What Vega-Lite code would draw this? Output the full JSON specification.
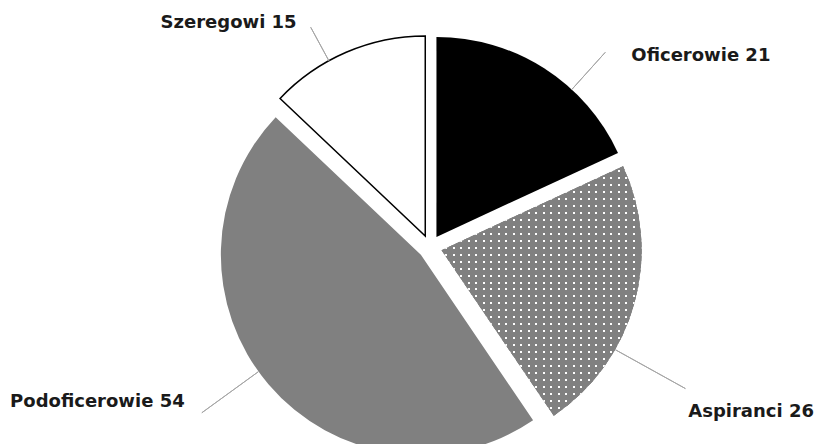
{
  "$schema": "https://vega.github.io/schema/vega-lite/v6.json",
  "width": 770,
  "height": 394,
  "autosize": {"type": "none"},
  "padding": {"left": 45, "top": 50, "right": 0, "bottom": 0},
  "background": "#ffffff",
  "view": {"stroke": null},
  "data": {
    "values": [
      {"cat": "Oficerowie", "n": 1, "value": 21, "label": "Oficerowie 21"},
      {"cat": "Aspiranci", "n": 2, "value": 26, "label": "Aspiranci 26"},
      {"cat": "Podoficerowie", "n": 3, "value": 54, "label": "Podoficerowie 54"},
      {"cat": "Szeregowi", "n": 4, "value": 15, "label": "Szeregowi 15"}
    ]
  },
  "transform": [
    {"stack": "value", "groupby": [], "sort": [{"field": "n", "order": "ascending"}], "as": ["v0", "v1"]}
  ],
  "layer": [
    {
      "mark": {
        "type": "arc",
        "radius": 200,
        "x": {"expr": "width/2 + 12*sin(scale('theta', (datum.v0 + datum.v1)/2))"},
        "y": {"expr": "height/2 - 12*cos(scale('theta', (datum.v0 + datum.v1)/2))"},
        "strokeWidth": 1.5
      },
      "encoding": {
        "theta": {"field": "v1", "type": "quantitative", "scale": {"nice": false, "zero": true}},
        "theta2": {"field": "v0"},
        "color": {
          "field": "cat",
          "type": "nominal",
          "scale": {"domain": ["Oficerowie", "Aspiranci", "Podoficerowie", "Szeregowi"], "range": ["#000000", "#808080", "#808080", "#ffffff"]},
          "legend": null
        },
        "stroke": {"condition": {"test": "datum.cat === 'Szeregowi'", "value": "#000000"}, "value": "transparent"}
      }
    },
    {
      "transform": [{"filter": "datum.cat === 'Aspiranci'"}],
      "mark": {
        "type": "arc",
        "radius": 200,
        "x": {"expr": "width/2 + 12*sin(scale('theta', (datum.v0 + datum.v1)/2))"},
        "y": {"expr": "height/2 - 12*cos(scale('theta', (datum.v0 + datum.v1)/2))"},
        "fill": {
          "gradient": "linear", "x1": 0, "y1": 0, "x2": 0, "y2": 1,
          "stops": [
            {"offset": 0, "color": "#808080"},
            {"offset": 0.014, "color": "#808080"}, {"offset": 0.014, "color": "#ffffff"}, {"offset": 0.022, "color": "#ffffff"}, {"offset": 0.022, "color": "#808080"},
            {"offset": 0.042, "color": "#808080"}, {"offset": 0.042, "color": "#ffffff"}, {"offset": 0.050, "color": "#ffffff"}, {"offset": 0.050, "color": "#808080"},
            {"offset": 0.070, "color": "#808080"}, {"offset": 0.070, "color": "#ffffff"}, {"offset": 0.078, "color": "#ffffff"}, {"offset": 0.078, "color": "#808080"},
            {"offset": 0.098, "color": "#808080"}, {"offset": 0.098, "color": "#ffffff"}, {"offset": 0.106, "color": "#ffffff"}, {"offset": 0.106, "color": "#808080"},
            {"offset": 0.126, "color": "#808080"}, {"offset": 0.126, "color": "#ffffff"}, {"offset": 0.134, "color": "#ffffff"}, {"offset": 0.134, "color": "#808080"},
            {"offset": 0.154, "color": "#808080"}, {"offset": 0.154, "color": "#ffffff"}, {"offset": 0.162, "color": "#ffffff"}, {"offset": 0.162, "color": "#808080"},
            {"offset": 0.182, "color": "#808080"}, {"offset": 0.182, "color": "#ffffff"}, {"offset": 0.190, "color": "#ffffff"}, {"offset": 0.190, "color": "#808080"},
            {"offset": 0.210, "color": "#808080"}, {"offset": 0.210, "color": "#ffffff"}, {"offset": 0.218, "color": "#ffffff"}, {"offset": 0.218, "color": "#808080"},
            {"offset": 0.238, "color": "#808080"}, {"offset": 0.238, "color": "#ffffff"}, {"offset": 0.246, "color": "#ffffff"}, {"offset": 0.246, "color": "#808080"},
            {"offset": 0.266, "color": "#808080"}, {"offset": 0.266, "color": "#ffffff"}, {"offset": 0.274, "color": "#ffffff"}, {"offset": 0.274, "color": "#808080"},
            {"offset": 0.294, "color": "#808080"}, {"offset": 0.294, "color": "#ffffff"}, {"offset": 0.302, "color": "#ffffff"}, {"offset": 0.302, "color": "#808080"},
            {"offset": 0.322, "color": "#808080"}, {"offset": 0.322, "color": "#ffffff"}, {"offset": 0.330, "color": "#ffffff"}, {"offset": 0.330, "color": "#808080"},
            {"offset": 0.350, "color": "#808080"}, {"offset": 0.350, "color": "#ffffff"}, {"offset": 0.358, "color": "#ffffff"}, {"offset": 0.358, "color": "#808080"},
            {"offset": 0.378, "color": "#808080"}, {"offset": 0.378, "color": "#ffffff"}, {"offset": 0.386, "color": "#ffffff"}, {"offset": 0.386, "color": "#808080"},
            {"offset": 0.406, "color": "#808080"}, {"offset": 0.406, "color": "#ffffff"}, {"offset": 0.414, "color": "#ffffff"}, {"offset": 0.414, "color": "#808080"},
            {"offset": 0.434, "color": "#808080"}, {"offset": 0.434, "color": "#ffffff"}, {"offset": 0.442, "color": "#ffffff"}, {"offset": 0.442, "color": "#808080"},
            {"offset": 0.462, "color": "#808080"}, {"offset": 0.462, "color": "#ffffff"}, {"offset": 0.470, "color": "#ffffff"}, {"offset": 0.470, "color": "#808080"},
            {"offset": 0.490, "color": "#808080"}, {"offset": 0.490, "color": "#ffffff"}, {"offset": 0.498, "color": "#ffffff"}, {"offset": 0.498, "color": "#808080"},
            {"offset": 0.518, "color": "#808080"}, {"offset": 0.518, "color": "#ffffff"}, {"offset": 0.526, "color": "#ffffff"}, {"offset": 0.526, "color": "#808080"},
            {"offset": 0.546, "color": "#808080"}, {"offset": 0.546, "color": "#ffffff"}, {"offset": 0.554, "color": "#ffffff"}, {"offset": 0.554, "color": "#808080"},
            {"offset": 0.574, "color": "#808080"}, {"offset": 0.574, "color": "#ffffff"}, {"offset": 0.582, "color": "#ffffff"}, {"offset": 0.582, "color": "#808080"},
            {"offset": 0.602, "color": "#808080"}, {"offset": 0.602, "color": "#ffffff"}, {"offset": 0.610, "color": "#ffffff"}, {"offset": 0.610, "color": "#808080"},
            {"offset": 0.630, "color": "#808080"}, {"offset": 0.630, "color": "#ffffff"}, {"offset": 0.638, "color": "#ffffff"}, {"offset": 0.638, "color": "#808080"},
            {"offset": 0.658, "color": "#808080"}, {"offset": 0.658, "color": "#ffffff"}, {"offset": 0.666, "color": "#ffffff"}, {"offset": 0.666, "color": "#808080"},
            {"offset": 0.686, "color": "#808080"}, {"offset": 0.686, "color": "#ffffff"}, {"offset": 0.694, "color": "#ffffff"}, {"offset": 0.694, "color": "#808080"},
            {"offset": 0.714, "color": "#808080"}, {"offset": 0.714, "color": "#ffffff"}, {"offset": 0.722, "color": "#ffffff"}, {"offset": 0.722, "color": "#808080"},
            {"offset": 0.742, "color": "#808080"}, {"offset": 0.742, "color": "#ffffff"}, {"offset": 0.750, "color": "#ffffff"}, {"offset": 0.750, "color": "#808080"},
            {"offset": 0.770, "color": "#808080"}, {"offset": 0.770, "color": "#ffffff"}, {"offset": 0.778, "color": "#ffffff"}, {"offset": 0.778, "color": "#808080"},
            {"offset": 0.798, "color": "#808080"}, {"offset": 0.798, "color": "#ffffff"}, {"offset": 0.806, "color": "#ffffff"}, {"offset": 0.806, "color": "#808080"},
            {"offset": 0.826, "color": "#808080"}, {"offset": 0.826, "color": "#ffffff"}, {"offset": 0.834, "color": "#ffffff"}, {"offset": 0.834, "color": "#808080"},
            {"offset": 0.854, "color": "#808080"}, {"offset": 0.854, "color": "#ffffff"}, {"offset": 0.862, "color": "#ffffff"}, {"offset": 0.862, "color": "#808080"},
            {"offset": 0.882, "color": "#808080"}, {"offset": 0.882, "color": "#ffffff"}, {"offset": 0.890, "color": "#ffffff"}, {"offset": 0.890, "color": "#808080"},
            {"offset": 0.910, "color": "#808080"}, {"offset": 0.910, "color": "#ffffff"}, {"offset": 0.918, "color": "#ffffff"}, {"offset": 0.918, "color": "#808080"},
            {"offset": 0.938, "color": "#808080"}, {"offset": 0.938, "color": "#ffffff"}, {"offset": 0.946, "color": "#ffffff"}, {"offset": 0.946, "color": "#808080"},
            {"offset": 0.966, "color": "#808080"}, {"offset": 0.966, "color": "#ffffff"}, {"offset": 0.974, "color": "#ffffff"}, {"offset": 0.974, "color": "#808080"},
            {"offset": 1, "color": "#808080"}
          ]
        }
      },
      "encoding": {
        "theta": {"field": "v1", "type": "quantitative"},
        "theta2": {"field": "v0"}
      }
    },
    {
      "transform": [{"filter": "datum.cat === 'Aspiranci'"}],
      "mark": {
        "type": "arc",
        "radius": 200,
        "x": {"expr": "width/2 + 12*sin(scale('theta', (datum.v0 + datum.v1)/2))"},
        "y": {"expr": "height/2 - 12*cos(scale('theta', (datum.v0 + datum.v1)/2))"},
        "fill": {
          "gradient": "linear", "x1": 0, "y1": 0, "x2": 1, "y2": 0,
          "stops": [
            {"offset": 0, "color": "#808080"},
            {"offset": 0.019, "color": "#808080"}, {"offset": 0.019, "color": "rgba(128,128,128,0)"}, {"offset": 0.029, "color": "rgba(128,128,128,0)"}, {"offset": 0.029, "color": "#808080"},
            {"offset": 0.0565, "color": "#808080"}, {"offset": 0.0565, "color": "rgba(128,128,128,0)"}, {"offset": 0.0665, "color": "rgba(128,128,128,0)"}, {"offset": 0.0665, "color": "#808080"},
            {"offset": 0.094, "color": "#808080"}, {"offset": 0.094, "color": "rgba(128,128,128,0)"}, {"offset": 0.104, "color": "rgba(128,128,128,0)"}, {"offset": 0.104, "color": "#808080"},
            {"offset": 0.1315, "color": "#808080"}, {"offset": 0.1315, "color": "rgba(128,128,128,0)"}, {"offset": 0.1415, "color": "rgba(128,128,128,0)"}, {"offset": 0.1415, "color": "#808080"},
            {"offset": 0.169, "color": "#808080"}, {"offset": 0.169, "color": "rgba(128,128,128,0)"}, {"offset": 0.179, "color": "rgba(128,128,128,0)"}, {"offset": 0.179, "color": "#808080"},
            {"offset": 0.2065, "color": "#808080"}, {"offset": 0.2065, "color": "rgba(128,128,128,0)"}, {"offset": 0.2165, "color": "rgba(128,128,128,0)"}, {"offset": 0.2165, "color": "#808080"},
            {"offset": 0.244, "color": "#808080"}, {"offset": 0.244, "color": "rgba(128,128,128,0)"}, {"offset": 0.254, "color": "rgba(128,128,128,0)"}, {"offset": 0.254, "color": "#808080"},
            {"offset": 0.2815, "color": "#808080"}, {"offset": 0.2815, "color": "rgba(128,128,128,0)"}, {"offset": 0.2915, "color": "rgba(128,128,128,0)"}, {"offset": 0.2915, "color": "#808080"},
            {"offset": 0.319, "color": "#808080"}, {"offset": 0.319, "color": "rgba(128,128,128,0)"}, {"offset": 0.329, "color": "rgba(128,128,128,0)"}, {"offset": 0.329, "color": "#808080"},
            {"offset": 0.3565, "color": "#808080"}, {"offset": 0.3565, "color": "rgba(128,128,128,0)"}, {"offset": 0.3665, "color": "rgba(128,128,128,0)"}, {"offset": 0.3665, "color": "#808080"},
            {"offset": 0.394, "color": "#808080"}, {"offset": 0.394, "color": "rgba(128,128,128,0)"}, {"offset": 0.404, "color": "rgba(128,128,128,0)"}, {"offset": 0.404, "color": "#808080"},
            {"offset": 0.4315, "color": "#808080"}, {"offset": 0.4315, "color": "rgba(128,128,128,0)"}, {"offset": 0.4415, "color": "rgba(128,128,128,0)"}, {"offset": 0.4415, "color": "#808080"},
            {"offset": 0.469, "color": "#808080"}, {"offset": 0.469, "color": "rgba(128,128,128,0)"}, {"offset": 0.479, "color": "rgba(128,128,128,0)"}, {"offset": 0.479, "color": "#808080"},
            {"offset": 0.5065, "color": "#808080"}, {"offset": 0.5065, "color": "rgba(128,128,128,0)"}, {"offset": 0.5165, "color": "rgba(128,128,128,0)"}, {"offset": 0.5165, "color": "#808080"},
            {"offset": 0.544, "color": "#808080"}, {"offset": 0.544, "color": "rgba(128,128,128,0)"}, {"offset": 0.554, "color": "rgba(128,128,128,0)"}, {"offset": 0.554, "color": "#808080"},
            {"offset": 0.5815, "color": "#808080"}, {"offset": 0.5815, "color": "rgba(128,128,128,0)"}, {"offset": 0.5915, "color": "rgba(128,128,128,0)"}, {"offset": 0.5915, "color": "#808080"},
            {"offset": 0.619, "color": "#808080"}, {"offset": 0.619, "color": "rgba(128,128,128,0)"}, {"offset": 0.629, "color": "rgba(128,128,128,0)"}, {"offset": 0.629, "color": "#808080"},
            {"offset": 0.6565, "color": "#808080"}, {"offset": 0.6565, "color": "rgba(128,128,128,0)"}, {"offset": 0.6665, "color": "rgba(128,128,128,0)"}, {"offset": 0.6665, "color": "#808080"},
            {"offset": 0.694, "color": "#808080"}, {"offset": 0.694, "color": "rgba(128,128,128,0)"}, {"offset": 0.704, "color": "rgba(128,128,128,0)"}, {"offset": 0.704, "color": "#808080"},
            {"offset": 0.7315, "color": "#808080"}, {"offset": 0.7315, "color": "rgba(128,128,128,0)"}, {"offset": 0.7415, "color": "rgba(128,128,128,0)"}, {"offset": 0.7415, "color": "#808080"},
            {"offset": 0.769, "color": "#808080"}, {"offset": 0.769, "color": "rgba(128,128,128,0)"}, {"offset": 0.779, "color": "rgba(128,128,128,0)"}, {"offset": 0.779, "color": "#808080"},
            {"offset": 0.8065, "color": "#808080"}, {"offset": 0.8065, "color": "rgba(128,128,128,0)"}, {"offset": 0.8165, "color": "rgba(128,128,128,0)"}, {"offset": 0.8165, "color": "#808080"},
            {"offset": 0.844, "color": "#808080"}, {"offset": 0.844, "color": "rgba(128,128,128,0)"}, {"offset": 0.854, "color": "rgba(128,128,128,0)"}, {"offset": 0.854, "color": "#808080"},
            {"offset": 0.8815, "color": "#808080"}, {"offset": 0.8815, "color": "rgba(128,128,128,0)"}, {"offset": 0.8915, "color": "rgba(128,128,128,0)"}, {"offset": 0.8915, "color": "#808080"},
            {"offset": 0.919, "color": "#808080"}, {"offset": 0.919, "color": "rgba(128,128,128,0)"}, {"offset": 0.929, "color": "rgba(128,128,128,0)"}, {"offset": 0.929, "color": "#808080"},
            {"offset": 0.9565, "color": "#808080"}, {"offset": 0.9565, "color": "rgba(128,128,128,0)"}, {"offset": 0.9665, "color": "rgba(128,128,128,0)"}, {"offset": 0.9665, "color": "#808080"},
            {"offset": 1, "color": "#808080"}
          ]
        }
      },
      "encoding": {
        "theta": {"field": "v1", "type": "quantitative"},
        "theta2": {"field": "v0"}
      }
    },
    {
      "transform": [{"filter": "datum.cat === 'Oficerowie'"}],
      "mark": {"type": "arc", "radius": 262, "radius2": 212, "thetaOffset": -0.4045, "theta2Offset": 0.733, "fill": null, "stroke": "#a6a6a6", "strokeWidth": 1},
      "encoding": {"theta": {"field": "v1", "type": "quantitative"}, "theta2": {"field": "v0"}}
    },
    {
      "transform": [{"filter": "datum.cat === 'Aspiranci'"}],
      "mark": {"type": "arc", "radius": 292, "radius2": 212, "thetaOffset": -0.4689, "theta2Offset": 0.9394, "fill": null, "stroke": "#a6a6a6", "strokeWidth": 1},
      "encoding": {"theta": {"field": "v1", "type": "quantitative"}, "theta2": {"field": "v0"}}
    },
    {
      "transform": [{"filter": "datum.cat === 'Podoficerowie'"}],
      "mark": {"type": "arc", "radius": 282, "radius2": 212, "thetaOffset": -1.3866, "theta2Offset": 1.5383, "fill": null, "stroke": "#a6a6a6", "strokeWidth": 1},
      "encoding": {"theta": {"field": "v1", "type": "quantitative"}, "theta2": {"field": "v0"}}
    },
    {
      "transform": [{"filter": "datum.cat === 'Szeregowi'"}],
      "mark": {"type": "arc", "radius": 250, "radius2": 212, "thetaOffset": -0.4974, "theta2Offset": 0.3151, "fill": null, "stroke": "#a6a6a6", "strokeWidth": 1},
      "encoding": {"theta": {"field": "v1", "type": "quantitative"}, "theta2": {"field": "v0"}}
    },
    {
      "transform": [{"filter": "datum.cat === 'Oficerowie'"}],
      "mark": {"type": "text", "radius": 331.5, "thetaOffset": -0.1811, "font": "DejaVu Sans", "fontSize": 18, "fontWeight": "bold", "fill": "#1a1a1a", "align": "center", "baseline": "middle"},
      "encoding": {"theta": {"field": "v1", "type": "quantitative"}, "text": {"field": "label"}}
    },
    {
      "transform": [{"filter": "datum.cat === 'Aspiranci'"}],
      "mark": {"type": "text", "radius": 361, "thetaOffset": -0.5003, "font": "DejaVu Sans", "fontSize": 18, "fontWeight": "bold", "fill": "#1a1a1a", "align": "center", "baseline": "middle"},
      "encoding": {"theta": {"field": "v1", "type": "quantitative"}, "text": {"field": "label"}}
    },
    {
      "transform": [{"filter": "datum.cat === 'Podoficerowie'"}],
      "mark": {"type": "text", "radius": 367, "thetaOffset": -1.1946, "font": "DejaVu Sans", "fontSize": 18, "fontWeight": "bold", "fill": "#1a1a1a", "align": "center", "baseline": "middle"},
      "encoding": {"theta": {"field": "v1", "type": "quantitative"}, "text": {"field": "label"}}
    },
    {
      "transform": [{"filter": "datum.cat === 'Szeregowi'"}],
      "mark": {"type": "text", "radius": 301, "thetaOffset": -0.7331, "font": "DejaVu Sans", "fontSize": 18, "fontWeight": "bold", "fill": "#1a1a1a", "align": "center", "baseline": "middle"},
      "encoding": {"theta": {"field": "v1", "type": "quantitative"}, "text": {"field": "label"}}
    }
  ]
}
